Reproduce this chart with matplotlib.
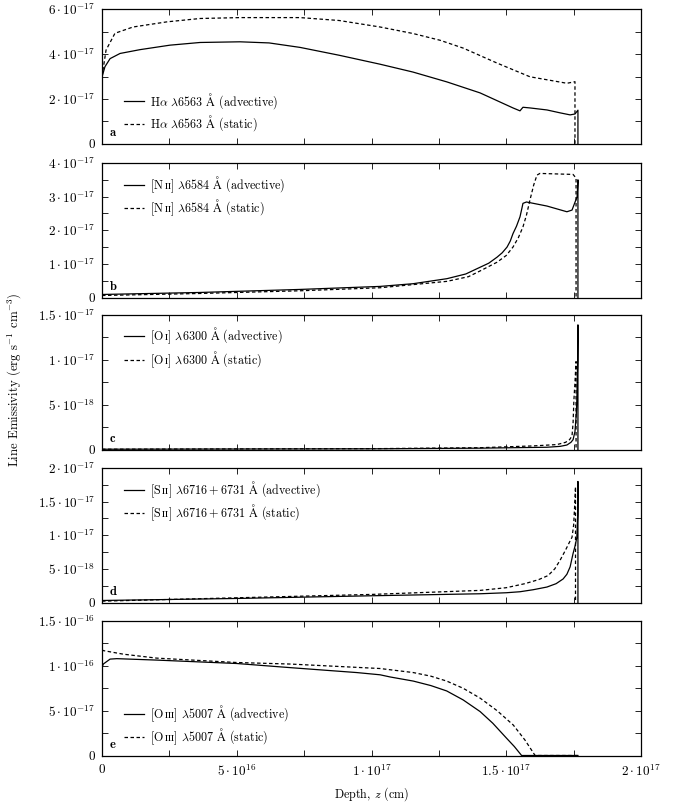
import numpy as np
import matplotlib
matplotlib.use("Agg")
import matplotlib.pyplot as plt

plt.rcParams['font.family'] = ['cmr10', 'DejaVu Serif']
plt.rcParams['mathtext.fontset'] = 'cm'
plt.rcParams['axes.unicode_minus'] = False

# depth in units of 1e16 cm, emissivity in units of the panel scale
# panel a: H-alpha (1e-17)
ha_adv_z = [0, 0.11, 0.30, 0.67, 1.41, 2.52, 3.64, 5.12, 6.2, 7.35, 8.8, 10.32, 11.54, 12.80,
            14.03, 15.25, 15.51, 15.62, 15.88, 16.51, 17.0, 17.37, 17.55, 17.66, 17.66]
ha_adv = [2.98, 3.44, 3.8, 4.03, 4.2, 4.4, 4.52, 4.55, 4.5, 4.3, 3.95, 3.55, 3.2, 2.76,
          2.27, 1.6, 1.47, 1.63, 1.6, 1.51, 1.38, 1.29, 1.33, 1.5, 0]
ha_sta_z = [0, 0.15, 0.48, 1.15, 2.41, 3.64, 5.12, 7.35, 8.8, 10.32, 11.54, 12.54, 13.4,
            14.66, 15.88, 17.25, 17.55, 17.55]
ha_sta = [3.0, 4.18, 4.93, 5.21, 5.44, 5.59, 5.63, 5.63, 5.5, 5.21, 4.92, 4.62, 4.27,
          3.6, 2.99, 2.7, 2.77, 0]

# panel b: [N II] 6584 (1e-17)
n2_adv_z = [0, 3.64, 7.35, 10.32, 11.54, 12.8, 13.5, 14.03, 14.35, 14.66, 14.85, 15.03,
            15.15, 15.25, 15.38, 15.51, 15.58, 15.62, 15.75, 15.88, 16.51, 17.25, 17.44,
            17.63, 17.66, 17.66]
n2_adv = [0.09, 0.15, 0.24, 0.33, 0.41, 0.56, 0.7, 0.9, 1.02, 1.2, 1.33, 1.5,
          1.68, 1.9, 2.12, 2.4, 2.65, 2.8, 2.84, 2.82, 2.72, 2.55, 2.6,
          3.0, 3.5, 0]
n2_sta_z = [0, 3.64, 7.35, 10.32, 12.8, 13.6, 14.03, 14.66, 15.0, 15.25, 15.45, 15.62,
            15.75, 15.88, 16.02, 16.14, 16.25, 17.48, 17.59, 17.59]
n2_sta = [0.06, 0.12, 0.2, 0.29, 0.48, 0.62, 0.79, 1.05, 1.25, 1.5, 1.78, 2.1,
          2.45, 2.9, 3.35, 3.64, 3.69, 3.66, 3.55, 0]

# panel c: [O I] 6300 (1e-17)
o1_adv_z = [0, 10.32, 14.03, 16.51, 17.0, 17.25, 17.4, 17.48, 17.55, 17.6, 17.62, 17.65,
            17.66, 17.66]
o1_adv = [0.003, 0.008, 0.015, 0.025, 0.035, 0.05, 0.08, 0.11, 0.2, 0.4, 0.56, 1.0,
          1.39, 0]
o1_sta_z = [0, 10.32, 14.03, 16.0, 16.88, 17.2, 17.35, 17.44, 17.48, 17.51, 17.55, 17.59,
            17.59]
o1_sta = [0.003, 0.01, 0.02, 0.04, 0.055, 0.08, 0.11, 0.15, 0.3, 0.55, 0.75, 0.98, 0]

# panel d: [S II] 6716+6731 (1e-17)
s2_adv_z = [0, 5.0, 10.0, 14.03, 15.0, 15.51, 16.0, 16.51, 16.85, 17.11, 17.25, 17.37,
            17.48, 17.56, 17.62, 17.65, 17.66, 17.66]
s2_adv = [0.03, 0.06, 0.1, 0.13, 0.145, 0.16, 0.19, 0.23, 0.28, 0.35, 0.42, 0.53,
          0.73, 0.85, 0.97, 1.3, 1.8, 0]
s2_sta_z = [0, 5.0, 10.0, 14.03, 15.0, 15.69, 16.2, 16.55, 16.8, 17.0, 17.2, 17.35,
            17.44, 17.5, 17.54, 17.57, 17.57]
s2_sta = [0.02, 0.07, 0.12, 0.18, 0.22, 0.28, 0.34, 0.4, 0.5, 0.63, 0.78, 0.9,
          0.97, 1.15, 1.45, 1.72, 0]

# panel e: [O III] 5007 (1e-16)
o3_adv_z = [0, 0.048, 0.3, 0.55, 2.03, 5.0, 6.98, 9.45, 10.32, 10.69, 11.55, 12.2, 12.79,
            13.4, 14.03, 14.5, 15.02, 15.3, 15.57, 17.66]
o3_adv = [0.98, 1.02, 1.075, 1.08, 1.064, 1.026, 0.98, 0.925, 0.9, 0.876, 0.83, 0.78, 0.72,
          0.62, 0.49, 0.36, 0.19, 0.1, 0, 0]
o3_sta_z = [0, 0.048, 0.79, 2.03, 5.0, 6.98, 10.32, 11.55, 12.2, 12.79, 13.4, 14.03, 14.66,
            15.26, 15.7, 16.07, 17.66]
o3_sta = [1.18, 1.17, 1.13, 1.086, 1.037, 1.02, 0.97, 0.925, 0.885, 0.83, 0.75, 0.64, 0.5,
          0.34, 0.17, 0, 0]

ANG = '$\\mathrm{Å}$'
panels = [
    ('a', 1e-17, ha_adv_z, ha_adv, ha_sta_z, ha_sta,
     'H$\\alpha$ $\\lambda$6563 ' + ANG, 6e-17, [0, 2e-17, 4e-17, 6e-17], 1e-17, 0.234),
    ('b', 1e-17, n2_adv_z, n2_adv, n2_sta_z, n2_sta,
     '[N$\\,\\mathrm{ɪɪ}$] $\\lambda$6584 ' + ANG, 4e-17, [0, 1e-17, 2e-17, 3e-17, 4e-17], 0.5e-17, 0.754),
    ('c', 1e-17, o1_adv_z, o1_adv, o1_sta_z, o1_sta,
     '[O$\\,\\mathrm{ɪ}$] $\\lambda$6300 ' + ANG, 1.5e-17, [0, 5e-18, 1e-17, 1.5e-17], 2.5e-18, 0.756),
    ('d', 1e-17, s2_adv_z, s2_adv, s2_sta_z, s2_sta,
     '[S$\\,\\mathrm{ɪɪ}$] $\\lambda6716 + 6731$ ' + ANG, 2e-17, [0, 5e-18, 1e-17, 1.5e-17, 2e-17], 2.5e-18, 0.754),
    ('e', 1e-16, o3_adv_z, o3_adv, o3_sta_z, o3_sta,
     '[O$\\,\\mathrm{ɪɪɪ}$] $\\lambda$5007 ' + ANG, 1.5e-16, [0, 5e-17, 1e-16, 1.5e-16], 2.5e-17, 0.228),
]

x_major = [0, 5e16, 1e17, 1.5e17, 2e17]
x_minor = [2.5e16, 7.5e16, 1.25e17, 1.75e17]


def sci_label(v):
    """format 5e-18 as 5·10^-18 like the gnuplot epslatex output"""
    if v == 0:
        return '0'
    e = int(np.floor(np.log10(v) + 1e-9))
    m = v / 10.0 ** e
    return '$%g\\cdot10^{%d}$' % (round(m, 2), e)


fig = plt.figure(figsize=(6.84, 8.06), dpi=100)
W, H = 684, 806
tops = [9.3, 163, 315, 468, 621]
ph = 134.5

axes = []
for i, (letter, scale, za, va, zs, vs, label, ymax, yticks, ystep, leg_y) in enumerate(panels):
    ax = fig.add_axes([102 / W, 1 - (tops[i] + ph) / H, 539 / W, ph / H])
    axes.append(ax)
    ax.plot(np.array(za) * 1e16, np.array(va) * scale, color='black', lw=0.9,
            label=label + ' (advective)')
    ax.plot(np.array(zs) * 1e16, np.array(vs) * scale, color='black', lw=0.9,
            linestyle=(0, (2.8, 2.0)), label=label + ' (static)')

    ax.set_xlim(0, 2e17)
    ax.set_ylim(0, ymax)
    ax.set_xticks(x_major)
    ax.set_xticks(x_minor, minor=True)
    ax.set_yticks(yticks)
    ax.set_yticklabels([sci_label(t) for t in yticks])
    minor_y = [t for t in np.arange(0, ymax + ystep / 2, ystep)
               if min(abs(t - y) for y in yticks) > ystep / 4]
    ax.set_yticks(minor_y, minor=True)
    ax.tick_params(which='both', direction='in', top=True, right=True,
                   length=4, width=0.6, labelsize=9.5, pad=5)
    for sp in ax.spines.values():
        sp.set_linewidth(0.9)
    if i < 4:
        ax.set_xticklabels([])
    else:
        ax.set_xticklabels([sci_label(t) for t in x_major])
        ax.tick_params(axis='x', pad=6)

    ax.legend(loc='center left', bbox_to_anchor=(0.041, leg_y), frameon=False,
              fontsize=8.7, borderpad=0, borderaxespad=0, handlelength=1.65,
              handletextpad=0.5, labelspacing=0.22)
    ax.text(0.015, 0.035, letter, transform=ax.transAxes, family='cmb10',
            fontsize=9, ha='left', va='bottom')

axes[-1].set_xlabel('Depth, $z$ (cm)', fontsize=8.7, labelpad=4)
fig.text(14 / W, 1 - 380 / H, 'Line Emissivity (erg s$^{-1}$ cm$^{-3}$)',
         rotation=90, ha='center', va='center', fontsize=9.2)

fig.savefig('out.png', dpi=100)
